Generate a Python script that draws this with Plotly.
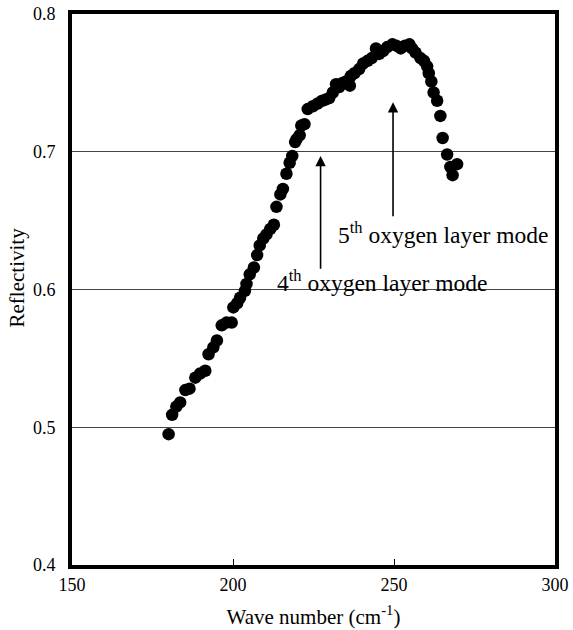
import plotly.graph_objects as go

wave_number = [180.0, 181.1, 182.4, 183.6, 185.2, 186.5, 188.3, 189.8, 191.4, 192.4,
               193.9, 195.0, 196.5, 198.0, 199.6, 200.1, 201.3, 202.2, 203.7, 204.2,
               205.2, 206.5, 207.5, 208.3, 209.4, 210.4, 211.6, 212.7, 213.5, 214.7,
               215.5, 216.6, 217.6, 218.4, 219.3, 219.7, 220.7, 221.2, 222.2, 223.2,
               224.8, 226.3, 227.7, 228.9, 229.9, 231.0, 232.0, 233.0, 234.0, 235.1,
               236.3, 236.6, 237.7, 239.2, 240.4, 241.8, 243.1, 244.4, 245.4, 246.6,
               247.9, 249.5, 250.7, 252.1, 253.4, 254.8, 255.6, 256.7, 258.2, 259.3,
               260.3, 260.8, 261.6, 262.3, 263.4, 264.4, 265.1, 266.5, 267.5, 268.2,
               269.6]
reflectivity = [0.495, 0.509, 0.515, 0.518, 0.527, 0.528, 0.536, 0.539, 0.541, 0.553,
                0.558, 0.563, 0.574, 0.576, 0.576, 0.587, 0.590, 0.594, 0.599, 0.604,
                0.611, 0.616, 0.625, 0.632, 0.637, 0.640, 0.644, 0.647, 0.660, 0.669,
                0.673, 0.684, 0.692, 0.697, 0.707, 0.709, 0.712, 0.719, 0.720, 0.731,
                0.733, 0.735, 0.737, 0.738, 0.739, 0.743, 0.749, 0.747, 0.750, 0.751,
                0.748, 0.755, 0.757, 0.760, 0.764, 0.766, 0.768, 0.775, 0.771, 0.773,
                0.776, 0.778, 0.777, 0.775, 0.777, 0.778, 0.775, 0.772, 0.768, 0.766,
                0.762, 0.757, 0.751, 0.743, 0.737, 0.726, 0.710, 0.698, 0.689, 0.683,
                0.691]

x_ticks = [150, 200, 250, 300]
y_ticks = [0.4, 0.5, 0.6, 0.7, 0.8]

# annotations: (label, arrow x, arrow tip y, arrow tail y, text x, text y)
modes = [
    ("4<sup>th</sup> oxygen layer mode", 227.2, 0.697, 0.614, 213.0, 0.606),
    ("5<sup>th</sup> oxygen layer mode", 249.7, 0.736, 0.652, 232.0, 0.641),
]

FONT = "Liberation Serif"

fig = go.Figure()
fig.add_trace(go.Scatter(
    x=wave_number, y=reflectivity, mode="markers",
    marker=dict(color="black", size=12.5, line=dict(width=0)),
    showlegend=False, cliponaxis=False,
))

annotations = []
for label, ax_x, tip_y, tail_y, tx, ty in modes:
    annotations.append(dict(
        x=ax_x, y=tip_y, ax=ax_x, ay=tail_y, axref="x", ayref="y",
        xref="x", yref="y", text="", showarrow=True,
        arrowhead=2, arrowsize=1.3, arrowwidth=1.6, arrowcolor="black",
    ))
    annotations.append(dict(
        x=tx, y=ty, xref="x", yref="y", text=label, showarrow=False,
        xanchor="left", yanchor="middle",
        font=dict(family=FONT, size=23.5, color="black"),
    ))

# y-axis title placed as a rotated paper annotation
annotations.append(dict(
    x=-0.0, xref="paper", xanchor="center", xshift=-56,
    y=0.5, yref="paper", yanchor="middle", yshift=12,
    text="Reflectivity", textangle=-90, showarrow=False,
    font=dict(family=FONT, size=21, color="black"),
))

fig.update_layout(
    width=573, height=630,
    margin=dict(l=72, r=18, t=14, b=65),
    plot_bgcolor="white", paper_bgcolor="white",
    font=dict(family=FONT, size=18, color="black"),
    annotations=annotations,
    xaxis=dict(
        range=[150, 300], tickvals=x_ticks, ticktext=[str(v) for v in x_ticks],
        showgrid=False, zeroline=False, automargin=False,
        showline=True, linewidth=4, linecolor="black", mirror=True,
        ticks="inside", ticklen=6, tickwidth=1, tickcolor="black",
        tickfont=dict(family=FONT, size=18),
        title=dict(text="Wave number (cm<sup>-1</sup>)", font=dict(family=FONT, size=21), standoff=17),
    ),
    yaxis=dict(
        range=[0.4, 0.8], tickvals=y_ticks,
        ticktext=[f"{v:.1f}&nbsp;&nbsp;" for v in y_ticks],
        showgrid=True, gridcolor="#444444", gridwidth=1, zeroline=False, automargin=False,
        showline=True, linewidth=4, linecolor="black", mirror=True,
        ticks="",
        tickfont=dict(family=FONT, size=18),
    ),
)

fig.write_html("out.html")
